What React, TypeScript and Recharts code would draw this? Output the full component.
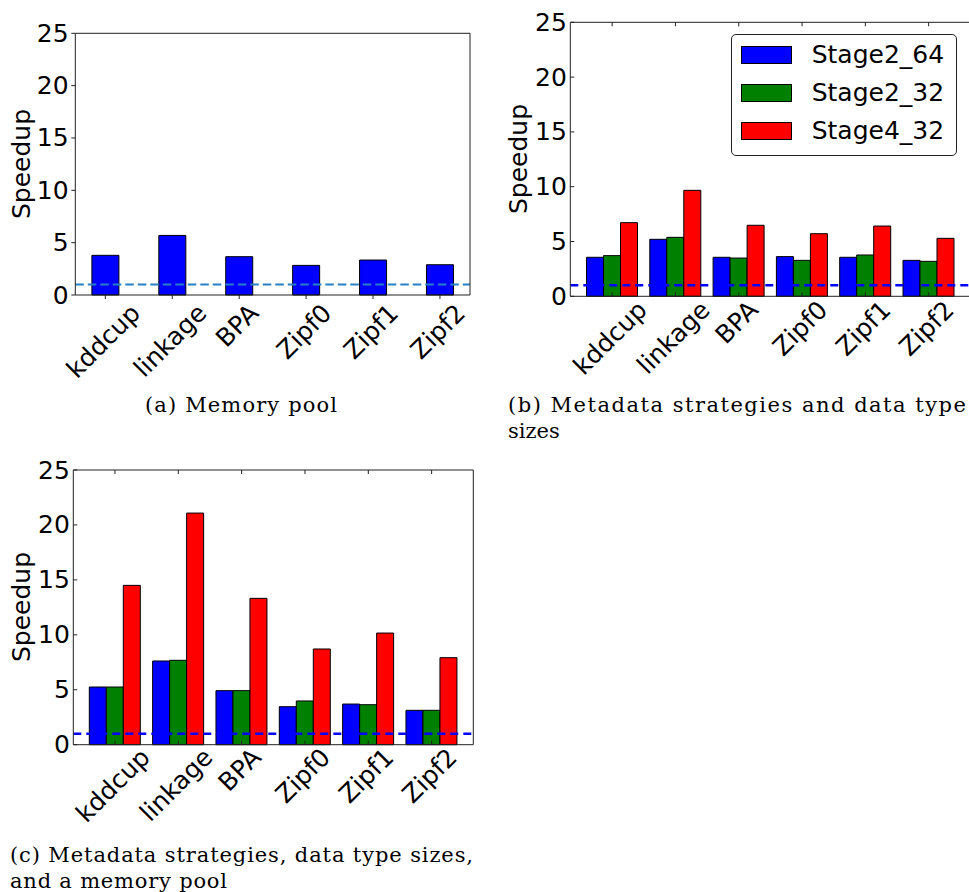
import React from 'react';
import { BarChart, Bar, XAxis, YAxis, ReferenceLine, Legend } from 'recharts';

// ---------- data ----------
const categories = ['kddcup', 'linkage', 'BPA', 'Zipf0', 'Zipf1', 'Zipf2'];
const memoryPoolSpeedup = [3.79, 5.69, 3.66, 2.83, 3.34, 2.89];

const seriesNames = ['Stage2_64', 'Stage2_32', 'Stage4_32'];
const seriesColors = ['#0000ff', '#008000', '#ff0000'];

const metaStage2_64 = [3.56, 5.2, 3.56, 3.62, 3.56, 3.28];
const metaStage2_32 = [3.71, 5.38, 3.49, 3.28, 3.77, 3.19];
const metaStage4_32 = [6.72, 9.67, 6.48, 5.71, 6.41, 5.29];

const poolStage2_64 = [5.25, 7.62, 4.92, 3.46, 3.7, 3.13];
const poolStage2_32 = [5.25, 7.68, 4.92, 3.98, 3.64, 3.13];
const poolStage4_32 = [14.5, 21.08, 13.32, 8.71, 10.16, 7.92];

const yTicks = [0, 5, 10, 15, 20, 25];
const baselineSpeedup = 1;
const yLabelText = 'Speedup';

const captionA = ['(a) Memory pool'];
const captionB = ['(b) Metadata strategies and data type', 'sizes'];
const captionC = ['(c) Metadata strategies, data type sizes,', 'and a memory pool'];

const dataA = categories.map((c, i) => ({ name: c, pool: memoryPoolSpeedup[i] }));
const dataB = categories.map((c, i) => ({
  name: c,
  [seriesNames[0]]: metaStage2_64[i],
  [seriesNames[1]]: metaStage2_32[i],
  [seriesNames[2]]: metaStage4_32[i],
}));
const dataC = categories.map((c, i) => ({
  name: c,
  [seriesNames[0]]: poolStage2_64[i],
  [seriesNames[1]]: poolStage2_32[i],
  [seriesNames[2]]: poolStage4_32[i],
}));

// ---------- styling helpers ----------
const FS = 25;
const FONT = 'DejaVu Sans';
const AX = '#222';

let measureCtx: CanvasRenderingContext2D | null = null;
function measure(text: string): number {
  if (!measureCtx) measureCtx = document.createElement('canvas').getContext('2d');
  if (!measureCtx) return text.length * FS * 0.6;
  measureCtx.font = `${FS}px "${FONT}"`;
  return measureCtx.measureText(text).width;
}

const makeXTick = (axisY: number, pad: number, inner: boolean) => (props: any) => {
  const { x, payload } = props;
  const label = String(payload.value);
  const w = measure(label) - 2;
  const h = FS * 0.95;
  const bb = (w + h) * Math.SQRT1_2;
  const cy = axisY + pad + bb / 2;
  const cx = x - 2;
  return (
    <g>
      {inner && <line x1={x} x2={x} y1={axisY} y2={axisY - 4} stroke={AX} strokeWidth={1} />}
      <text
        x={cx}
        y={cy}
        transform={`rotate(-45 ${cx} ${cy})`}
        textAnchor="middle"
        dominantBaseline="central"
        fontFamily={FONT}
        fontSize={FS}
        fill="#000"
      >
        {label}
      </text>
    </g>
  );
};

const makeTopTick = (topY: number) => (props: any) => {
  const { x } = props;
  return <line x1={x} x2={x} y1={topY} y2={topY + 4} stroke={AX} strokeWidth={1} />;
};

const makeYTick = (axisX: number, gap: number, inner: boolean) => (props: any) => {
  const { y, payload } = props;
  return (
    <g>
      {inner && <line x1={axisX} x2={axisX + 4} y1={y} y2={y} stroke={AX} strokeWidth={1} />}
      <text
        x={axisX - gap}
        y={y}
        textAnchor="end"
        dominantBaseline="central"
        fontFamily={FONT}
        fontSize={FS}
        fill="#000"
      >
        {payload.value}
      </text>
    </g>
  );
};

const makeRightTick = (axisX: number) => (props: any) => {
  const { y } = props;
  return <line x1={axisX - 4} x2={axisX} y1={y} y2={y} stroke={AX} strokeWidth={1} />;
};

const EmptyTick = () => <g />;

const YTitle = (props: any) => {
  const { lx, ly } = props;
  return (
    <text
      x={lx}
      y={ly}
      transform={`rotate(-90 ${lx} ${ly})`}
      textAnchor="middle"
      dominantBaseline="central"
      fontFamily={FONT}
      fontSize={FS}
      fill="#000"
    >
      {yLabelText}
    </text>
  );
};

const LegendBox = () => {
  return (
    <div
      style={{
        position: 'relative',
        boxSizing: 'border-box',
        width: 226,
        height: 122,
        border: `1px solid ${AX}`,
        borderRadius: 5,
        background: '#fff',
      }}
    >
      {seriesNames.map((name, i) => (
        <div key={name}>
          <div
            style={{
              position: 'absolute',
              left: 9,
              top: 20 + i * 38 - 9,
              width: 51,
              height: 18,
              boxSizing: 'border-box',
              background: seriesColors[i],
              border: '1px solid #000',
            }}
          />
          <div
            style={{
              position: 'absolute',
              left: 80,
              top: 20 + i * 38 - 15,
              height: 30,
              lineHeight: '30px',
              fontFamily: FONT,
              fontSize: FS,
              color: '#000',
              whiteSpace: 'nowrap',
            }}
          >
            {name}
          </div>
        </div>
      ))}
    </div>
  );
};

// ---------- charts ----------
const ChartA = () => {
  const W = 480, H = 420, top = 33.3, right = 10, yW = 75.3, xH = 125;
  const axisY = H - xH;
  return (
    <BarChart width={W} height={H} data={dataA} margin={{ top: top - 1, right: right - 1, left: 0, bottom: 0 }} barGap={0}>
      <XAxis
        dataKey="name"
        interval={0}
        height={xH}
        padding={{ left: -3.4, right: -3.4 }}
        axisLine={{ stroke: AX }}
        tickLine={{ stroke: AX }}
        tickSize={4}
        tick={makeXTick(axisY, 6, false)}
      />
      <XAxis xAxisId="t" orientation="top" dataKey="name" height={1} interval={0} padding={{ left: -3.4, right: -3.4 }} axisLine={{ stroke: AX }} tickLine={false} tick={EmptyTick} />
      <YAxis
        width={yW}
        domain={[0, 25]}
        ticks={yTicks}
        interval={0}
        axisLine={{ stroke: AX }}
        tickLine={{ stroke: AX }}
        tickSize={4}
        tick={makeYTick(yW, 6.7, false)}
        label={<YTitle lx={21} ly={164} />}
      />
      <YAxis yAxisId="r" orientation="right" width={1} domain={[0, 25]} ticks={yTicks} interval={0} axisLine={{ stroke: AX }} tickLine={false} tick={EmptyTick} />
      <Bar dataKey="pool" fill="#0000ff" stroke="#000" strokeWidth={1} barSize={27} isAnimationActive={false} />
      <ReferenceLine y={baselineSpeedup} stroke="#2a80c4" strokeWidth={2} strokeDasharray="8.5 4" />
    </BarChart>
  );
};

const GroupedChart = (props: any) => {
  const { data, W, H, top, right, yW, xH, pad, tickPad, lx, ly, legend } = props;
  const axisY = H - xH;
  const rightX = W - right;
  return (
    <BarChart width={W} height={H} data={data} margin={{ top: top - 1, right: right - 1, left: 0, bottom: 0 }} barGap={0}>
      <XAxis
        dataKey="name"
        interval={0}
        height={xH}
        padding={{ left: pad, right: pad }}
        axisLine={{ stroke: AX }}
        tickLine={false}
        tick={makeXTick(axisY, tickPad, true)}
      />
      <XAxis
        xAxisId="t"
        orientation="top"
        dataKey="name"
        height={1}
        interval={0}
        padding={{ left: pad, right: pad }}
        axisLine={{ stroke: AX }}
        tickLine={false}
        tick={makeTopTick(top)}
      />
      <YAxis
        width={yW}
        domain={[0, 25]}
        ticks={yTicks}
        interval={0}
        axisLine={{ stroke: AX }}
        tickLine={false}
        tick={makeYTick(yW, 3.4, true)}
        label={<YTitle lx={lx} ly={ly} />}
      />
      <YAxis
        yAxisId="r"
        orientation="right"
        width={1}
        domain={[0, 25]}
        ticks={yTicks}
        interval={0}
        axisLine={{ stroke: AX }}
        tickLine={false}
        tick={makeRightTick(rightX)}
      />
      {seriesNames.map((s, i) => (
        <Bar key={s} dataKey={s} name={s} fill={seriesColors[i]} stroke="#000" strokeWidth={1} barSize={17} isAnimationActive={false} />
      ))}
      <ReferenceLine y={baselineSpeedup} stroke="#0000ff" strokeWidth={2.5} strokeDasharray="8 5" />
      {legend && (
        <Legend
          layout="horizontal"
          verticalAlign="middle"
          align="center"
          content={<LegendBox />}
          wrapperStyle={{ left: 240.7, top: 34.3, width: 226, height: 122 }}
        />
      )}
    </BarChart>
  );
};

const Caption = (props: any) => {
  const { lines, x, y, widths, lineGap } = props;
  return (
    <>
      {lines.map((t: string, i: number) => (
        <text
          key={i}
          x={x}
          y={y + i * lineGap}
          fontFamily="DejaVu Serif"
          fontSize={21}
          fill="#000"
          textLength={widths[i] || undefined}
          lengthAdjust="spacing"
        >
          {t}
        </text>
      ))}
    </>
  );
};

export default function App() {
  return (
    <div style={{ position: 'absolute', left: 0, top: 0, width: 969, height: 892, overflow: 'hidden', background: '#fff' }}>
      <div style={{ position: 'absolute', left: 0, top: 0 }}>
        <ChartA />
      </div>
      <div style={{ position: 'absolute', left: 490, top: 0 }}>
        <GroupedChart data={dataB} W={490} H={440} top={22.3} right={9.5} yW={80.3} xH={143.7} pad={10.2} tickPad={1.5} lx={28} ly={159} legend />
      </div>
      <div style={{ position: 'absolute', left: 0, top: 450 }}>
        <GroupedChart data={dataC} W={480} H={400} top={20} right={6.7} yW={73.3} xH={105.3} pad={10} tickPad={0.5} lx={21} ly={157} />
      </div>
      <svg width={969} height={892} style={{ position: 'absolute', left: 0, top: 0, pointerEvents: 'none' }}>
        <Caption lines={captionA} x={145} y={412} widths={[192]} lineGap={26} />
        <Caption lines={captionB} x={508} y={412} widths={[458, 0]} lineGap={26} />
        <Caption lines={captionC} x={10} y={862} widths={[463, 217]} lineGap={26} />
      </svg>
    </div>
  );
}
